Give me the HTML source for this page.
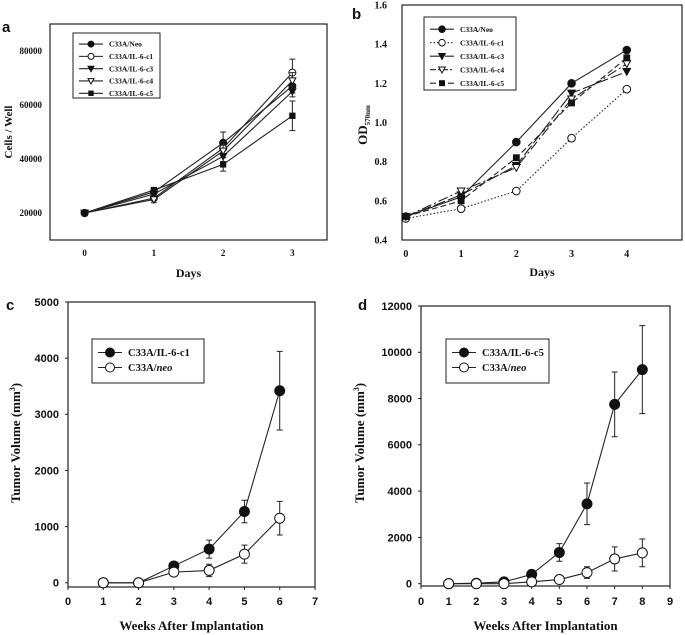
<!DOCTYPE html>
<html><head><meta charset="utf-8"><style>
body{margin:0;background:#fff}
svg{display:block}
text{font-family:"Liberation Serif",serif;font-weight:bold;fill:#111}
.sans{font-family:"Liberation Sans",sans-serif}
</style></head><body>
<svg id="fig" width="685" height="635" viewBox="0 0 685 635" xmlns="http://www.w3.org/2000/svg"></svg>
<script>
// Panel a data
const aDays=[0,1,2,3];
const aNeo=[20000,27800,46000,67000];
const aC1=[20000,25500,44000,72000];
const aC3=[20000,27000,41000,65000];
const aC4=[20000,25000,43000,69000];
const aC5=[20000,28500,38000,56000];
const aErrNeo=[0,800,4000,2500];
const aErrC1=[0,800,2500,5000];
const aErrC3=[0,700,2000,2000];
const aErrC4=[0,1200,2500,3000];
const aErrC5=[0,900,2500,5500];
const aYTicks=[20000,40000,60000,80000];
const aXTicks=[0,1,2,3];
// Panel b data
const bDays=[0,1,2,3,4];
const bNeo=[0.52,0.62,0.90,1.20,1.37];
const bC1=[0.51,0.56,0.65,0.92,1.17];
const bC3=[0.52,0.63,0.78,1.15,1.26];
const bC4=[0.52,0.65,0.77,1.12,1.30];
const bC5=[0.52,0.60,0.82,1.10,1.33];
const bYTicks=[0.4,0.6,0.8,1.0,1.2,1.4,1.6];
const bXTicks=[0,1,2,3,4];
// Panel c data
const cWeeks=[1,2,3,4,5,6];
const cIL=[0,0,300,600,1270,3420];
const cILErr=[0,0,50,160,200,700];
const cNeo=[0,0,190,220,510,1150];
const cNeoErr=[0,0,30,110,160,300];
const cYTicks=[0,1000,2000,3000,4000,5000];
const cXTicks=[0,1,2,3,4,5,6,7];
// Panel d data
const dWeeks=[1,2,3,4,5,6,7,8];
const dIL=[0,20,80,400,1350,3450,7750,9250];
const dILErr=[0,0,0,0,380,900,1400,1900];
const dNeo=[0,0,0,80,180,480,1070,1330];
const dNeoErr=[0,0,0,0,0,250,520,600];
const dYTicks=[0,2000,4000,6000,8000,10000,12000];
const dXTicks=[0,1,2,3,4,5,6,7,8,9];

const NS="http://www.w3.org/2000/svg";
const svg=document.getElementById('fig');
function mk(tag,at,parent,txt){const e=document.createElementNS(NS,tag);for(const k in at)e.setAttribute(k,at[k]);if(txt!==undefined)e.textContent=txt;(parent||svg).appendChild(e);return e;}
function lin(d0,d1,r0,r1){return v=>r0+(v-d0)/(d1-d0)*(r1-r0);}
function marker(g,type,x,y,r){
  let e;
  if(type==='fc'||type==='oc'){e=mk('circle',{cx:x,cy:y,r:r,fill:type==='fc'?'#111':'#fff',stroke:'#111','stroke-width':1},g);}
  else if(type==='ft'||type==='ot'){e=mk('polygon',{points:`${x-r},${y-r*0.8} ${x+r},${y-r*0.8} ${x},${y+r}`,fill:type==='ft'?'#111':'#fff',stroke:'#111','stroke-width':1},g);}
  else {e=mk('rect',{x:x-r*0.9,y:y-r*0.9,width:r*1.8,height:r*1.8,fill:'#111'},g);}
  
  
}
function series(g,xs,ys,errs,X,Y,type,r,dash,name){
  const sg=mk('g',{},g);
  
  
  const pts=xs.map((x,i)=>X(x)+','+Y(ys[i])).join(' ');
  mk('polyline',{points:pts,fill:'none',stroke:'#222','stroke-width':1.1,'stroke-dasharray':dash||'none'},sg);
  if(errs){xs.forEach((x,i)=>{if(errs[i]>0){const px=X(x),y1=Y(ys[i]+errs[i]),y2=Y(ys[i]-errs[i]);
    const eb=mk('path',{d:`M${px},${y1}V${y2}M${px-3},${y1}H${px+3}M${px-3},${y2}H${px+3}`,stroke:'#222','stroke-width':1,fill:'none'},sg);
    
    }});}
  xs.forEach((x,i)=>marker(sg,type,X(x),Y(ys[i]),r));
}
function legend(g,x,y,w,h,entries,fs,rowH,r,cls){
  const lg=mk('g',{},g);
  
  
  mk('rect',{x:x,y:y,width:w,height:h,fill:'#fff',stroke:'#222','stroke-width':1},lg);
  entries.forEach((en,i)=>{const cy=y+rowH*0.9+i*rowH;
    const eg=mk('g',{},lg);
    
    
    mk('line',{x1:x+6,x2:x+30,y1:cy,y2:cy,stroke:'#222','stroke-width':1.1,'stroke-dasharray':en.dash||'none'},eg);
    marker(eg,en.type,x+18,cy,r);
    const t=mk('text',{x:x+36,y:cy+fs*0.35,'font-size':fs},eg);
    t.innerHTML=en.label;});
}
function panel(o){
  const g=mk('g',{});
  
  
  const X=lin(o.xd[0],o.xd[1],o.box[0],o.box[2]);
  const Y=lin(o.yd[0],o.yd[1],o.box[3],o.box[1]);
  mk('rect',{x:o.box[0],y:o.box[1],width:o.box[2]-o.box[0],height:o.box[3]-o.box[1],fill:'none',stroke:'#222','stroke-width':1.2},g);
  const yt=mk('g',{},g);
  o.yt.forEach(v=>{const y=Y(v);
    if(o.ticks)mk('line',{x1:o.box[0]-3,x2:o.box[0],y1:y,y2:y,stroke:'#222'},yt);
    mk('text',{x:o.box[0]-o.ylOff,y:y+o.tfs*0.35,'text-anchor':'end','font-size':o.tfs,class:o.tcls||''},yt,o.yfmt?o.yfmt(v):v);});
  const xt=mk('g',{},g);
  o.xt.forEach(v=>{const x=X(v);
    if(o.ticks)mk('line',{x1:x,x2:x,y1:o.box[3],y2:o.box[3]+3,stroke:'#222'},xt);
    mk('text',{x:x,y:o.xlY,'text-anchor':'middle','font-size':o.tfs,class:o.tcls||''},xt,v);});
  const xtitle=mk('text',{x:(o.box[0]+o.box[2])/2,y:o.xtY,'text-anchor':'middle','font-size':o.xtfs},g,o.xtitle);
  
  const ytitle=mk('text',{x:0,y:0,'text-anchor':'middle','font-size':o.ytfs,transform:`translate(${o.ytX},${o.ytY}) rotate(-90)`},g);
  ytitle.innerHTML=o.ytitle;
  
  const pl=mk('text',{x:o.lab[0],y:o.lab[1],'font-size':15,class:'sans'},g,o.label);
  
  o.series.forEach(s=>series(g,s.x,s.y,s.e,X,Y,s.type,o.r,s.dash,s.name));
  legend(g,...o.leg,o.legEntries,o.lfs,o.lrow,o.r-0.5);
}
panel({name:'panel-a',box:[50,24,327,240],xd:[-0.5,3.5],yd:[10000,90000],yt:aYTicks,xt:aXTicks,tfs:9,ylOff:8,xlY:256,xtY:277,xtfs:12,
  xtitle:'Days',ytitle:'Cells / Well',ytX:12,ytY:132,ytfs:11,label:'a',lab:[2,32],r:3.5,
  series:[{name:'series-neo',x:aDays,y:aNeo,e:aErrNeo,type:'fc'},{name:'series-c1',x:aDays,y:aC1,e:aErrC1,type:'oc'},
    {name:'series-c3',x:aDays,y:aC3,e:aErrC3,type:'ft'},{name:'series-c4',x:aDays,y:aC4,e:aErrC4,type:'ot'},{name:'series-c5',x:aDays,y:aC5,e:aErrC5,type:'sq'}],
  leg:[73,33,87,65],lfs:7.5,lrow:12.3,
  legEntries:[{type:'fc',label:'C33A/Neo'},{type:'oc',label:'C33A/IL-6-c1'},{type:'ft',label:'C33A/IL-6-c3'},{type:'ot',label:'C33A/IL-6-c4'},{type:'sq',label:'C33A/IL-6-c5'}]});
panel({name:'panel-b',box:[402,5,682,240],xd:[-0.07,5],yd:[0.4,1.6],yt:bYTicks,xt:bXTicks,tfs:10,ylOff:15,xlY:257,xtY:276,xtfs:12,yfmt:v=>v.toFixed(1),
  xtitle:'Days',ytitle:'OD<tspan font-size="7" dy="3">570nm</tspan>',ytX:367,ytY:125,ytfs:13,label:'b',lab:[352,19],r:3.8,
  series:[{name:'series-neo',x:bDays,y:bNeo,type:'fc'},{name:'series-c1',x:bDays,y:bC1,type:'oc',dash:'1.5,2'},
    {name:'series-c3',x:bDays,y:bC3,type:'ft',dash:'12,3'},{name:'series-c4',x:bDays,y:bC4,type:'ot',dash:'10,3,2,3'},{name:'series-c5',x:bDays,y:bC5,type:'sq',dash:'6,3'}],
  leg:[424,17,92,73],lfs:7.5,lrow:13.5,
  legEntries:[{type:'fc',label:'C33A/Neo'},{type:'oc',label:'C33A/IL-6-c1',dash:'1.5,2'},{type:'ft',label:'C33A/IL-6-c3',dash:'12,3'},{type:'ot',label:'C33A/IL-6-c4',dash:'6,2,2,2'},{type:'sq',label:'C33A/IL-6-c5',dash:'6,3'}]});
panel({name:'panel-c',box:[68,302,315,587],xd:[0,7],yd:[-75,5000],yt:cYTicks,xt:cXTicks,tfs:11,tcls:'sans',ylOff:9,xlY:605,xtY:630,xtfs:13,ticks:true,
  xtitle:'Weeks After Implantation',ytitle:'Tumor Volume (mm<tspan font-size="8" dy="-5">3</tspan><tspan dy="5">)</tspan>',ytX:20,ytY:443,ytfs:13,label:'c',lab:[6,310],r:5,
  series:[{name:'series-il6-c1',x:cWeeks,y:cIL,e:cILErr,type:'fc'},{name:'series-neo',x:cWeeks,y:cNeo,e:cNeoErr,type:'oc'}],
  leg:[92,339,112,44],lfs:10.5,lrow:15,
  legEntries:[{type:'fc',label:'C33A/IL-6-c1'},{type:'oc',label:'C33A/<tspan font-style="italic">neo</tspan>'}]});
panel({name:'panel-d',box:[421,306,670,586],xd:[0,9],yd:[-100,12000],yt:dYTicks,xt:dXTicks,tfs:11,tcls:'sans',ylOff:9,xlY:605,xtY:630,xtfs:13,ticks:true,
  xtitle:'Weeks After Implantation',ytitle:'Tumor Volume (mm<tspan font-size="8" dy="-5">3</tspan><tspan dy="5">)</tspan>',ytX:364,ytY:443,ytfs:13,label:'d',lab:[358,310],r:5,
  series:[{name:'series-il6-c5',x:dWeeks,y:dIL,e:dILErr,type:'fc'},{name:'series-neo',x:dWeeks,y:dNeo,e:dNeoErr,type:'oc'}],
  leg:[446,339,103,44],lfs:10.5,lrow:15,
  legEntries:[{type:'fc',label:'C33A/IL-6-c5'},{type:'oc',label:'C33A/<tspan font-style="italic">neo</tspan>'}]});
</script>
</body></html>
